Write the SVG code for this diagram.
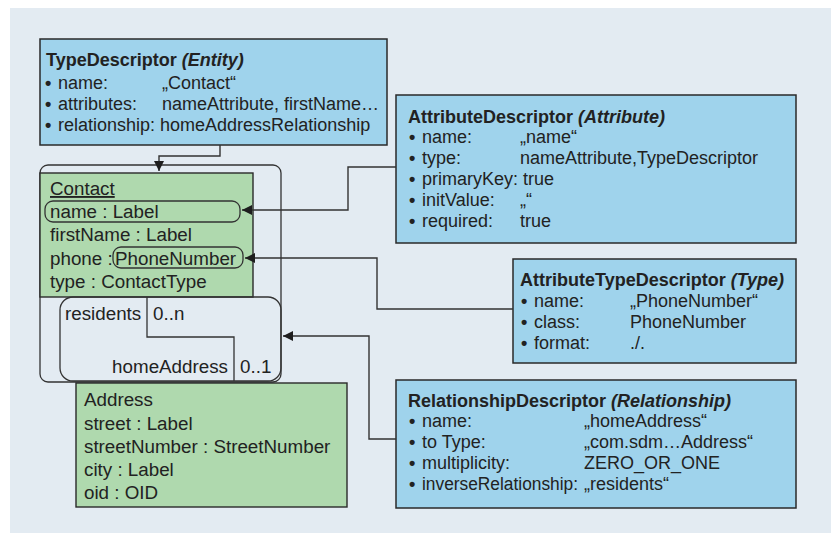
<svg xmlns="http://www.w3.org/2000/svg" width="831" height="533" viewBox="0 0 831 533">
  <defs>
    <marker id="arr" viewBox="0 0 10 10" refX="10" refY="5" markerWidth="10" markerHeight="10" markerUnits="userSpaceOnUse" orient="auto">
      <path d="M0,0 L10,5 L0,10 z" fill="#1e1e1e"/>
    </marker>
  </defs>
  <style>
    text { font-family: "Liberation Sans", Arial, sans-serif; font-size: 18px; fill: #222; }
    .t { font-weight: bold; }
    .ti { font-weight: bold; font-style: italic; }
    .b { font-weight: bold; }
    .g text { font-size: 18.8px; }
    .desc { fill: #9fd3ec; stroke: #2a2a2a; stroke-width: 1.5; }
    .cls { fill: #afd9ae; stroke: #2a2a2a; stroke-width: 1.4; }
    .frame { fill: none; stroke: #333; stroke-width: 1.3; }
    .wire { fill: none; stroke: #333; stroke-width: 1.4; }
  </style>

  <!-- backdrop -->
  <rect x="0" y="0" width="831" height="533" fill="#ffffff"/>
  <rect x="10" y="8" width="821" height="525" fill="#e3ebf2"/>

  <!-- Contact component frame -->
  <g id="contact-frame">
    <rect class="frame" x="40" y="165" width="241" height="217" rx="8"/>
  </g>

  <!-- Contact class -->
  <g id="contact" class="g">
    <rect class="cls" x="40" y="173" width="213" height="124"/>
    <text x="50" y="195" text-decoration="underline">Contact</text>
    <rect class="frame" x="45" y="201" width="195" height="21" rx="8"/>
    <text x="50" y="218">name : Label</text>
    <text x="50" y="241">firstName : Label</text>
    <text x="50" y="265">phone : </text>
    <rect class="frame" x="113" y="247" width="130" height="21" rx="8"/>
    <text x="115" y="265">PhoneNumber</text>
    <text x="50" y="288">type : ContactType</text>
  </g>

  <!-- residents / homeAddress association -->
  <g id="association" class="g">
    <rect class="frame" x="60" y="297" width="221" height="84" rx="13"/>
    <path class="frame" d="M147,297 V337 H234 V381"/>
    <text x="65" y="320">residents</text>
    <text x="153" y="320">0..n</text>
    <text x="228" y="373" text-anchor="end">homeAddress</text>
    <text x="240" y="373">0..1</text>
  </g>

  <!-- Address class -->
  <g id="address" class="g">
    <rect class="cls" x="76" y="383" width="271" height="124"/>
    <text x="84" y="406">Address</text>
    <text x="84" y="430">street : Label</text>
    <text x="84" y="453">streetNumber : StreetNumber</text>
    <text x="84" y="476">city : Label</text>
    <text x="84" y="499">oid : OID</text>
  </g>

  <!-- TypeDescriptor -->
  <g id="type-descriptor">
    <rect class="desc" x="40" y="39" width="347" height="106"/>
    <text x="46" y="66"><tspan class="t">TypeDescriptor </tspan><tspan class="ti">(Entity)</tspan></text>
    <text y="89"><tspan class="b" x="45">•</tspan><tspan x="58">name:</tspan><tspan x="162">„Contact“</tspan></text>
    <text y="110"><tspan class="b" x="45">•</tspan><tspan x="58">attributes:</tspan><tspan x="162">nameAttribute, firstName…</tspan></text>
    <text y="131"><tspan class="b" x="45">•</tspan><tspan x="58">relationship: homeAddressRelationship</tspan></text>
  </g>

  <!-- AttributeDescriptor -->
  <g id="attribute-descriptor">
    <rect class="desc" x="396" y="95" width="400" height="148"/>
    <text x="408" y="123"><tspan class="t">AttributeDescriptor </tspan><tspan class="ti">(Attribute)</tspan></text>
    <text y="143"><tspan class="b" x="409">•</tspan><tspan x="422">name:</tspan><tspan x="520">„name“</tspan></text>
    <text y="164"><tspan class="b" x="409">•</tspan><tspan x="422">type:</tspan><tspan x="520">nameAttribute,TypeDescriptor</tspan></text>
    <text y="185"><tspan class="b" x="409">•</tspan><tspan x="422">primaryKey: true</tspan></text>
    <text y="206"><tspan class="b" x="409">•</tspan><tspan x="422">initValue:</tspan><tspan x="520">„“</tspan></text>
    <text y="227"><tspan class="b" x="409">•</tspan><tspan x="422">required:</tspan><tspan x="520">true</tspan></text>
  </g>

  <!-- AttributeTypeDescriptor -->
  <g id="attribute-type-descriptor">
    <rect class="desc" x="513" y="259" width="283" height="104"/>
    <text x="520" y="286"><tspan class="t">AttributeTypeDescriptor </tspan><tspan class="ti">(Type)</tspan></text>
    <text y="307"><tspan class="b" x="521">•</tspan><tspan x="534">name:</tspan><tspan x="630">„PhoneNumber“</tspan></text>
    <text y="328"><tspan class="b" x="521">•</tspan><tspan x="534">class:</tspan><tspan x="630">PhoneNumber</tspan></text>
    <text y="349"><tspan class="b" x="521">•</tspan><tspan x="534">format:</tspan><tspan x="630">./.</tspan></text>
  </g>

  <!-- RelationshipDescriptor -->
  <g id="relationship-descriptor">
    <rect class="desc" x="396" y="380" width="400" height="128"/>
    <text x="408" y="407"><tspan class="t">RelationshipDescriptor </tspan><tspan class="ti">(Relationship)</tspan></text>
    <text y="427"><tspan class="b" x="409">•</tspan><tspan x="422">name:</tspan><tspan x="584">„homeAddress“</tspan></text>
    <text y="448"><tspan class="b" x="409">•</tspan><tspan x="422">to Type:</tspan><tspan x="584">„com.sdm…Address“</tspan></text>
    <text y="469"><tspan class="b" x="409">•</tspan><tspan x="422">multiplicity:</tspan><tspan x="584">ZERO_OR_ONE</tspan></text>
    <text class="b" x="409" y="490">•</text>
    <text x="422" y="490" textLength="156" lengthAdjust="spacingAndGlyphs">inverseRelationship:</text>
    <text x="584" y="490">„residents“</text>
  </g>

  <!-- connectors -->
  <g id="connectors">
    <path class="wire" d="M220,145 V156 H159 V171" marker-end="url(#arr)"/>
    <path class="wire" d="M396,167 H348 V210 H242" marker-end="url(#arr)"/>
    <path class="wire" d="M513,309 H377 V258 H245" marker-end="url(#arr)"/>
    <path class="wire" d="M396,439 H369 V336 H283" marker-end="url(#arr)"/>
  </g>
</svg>
